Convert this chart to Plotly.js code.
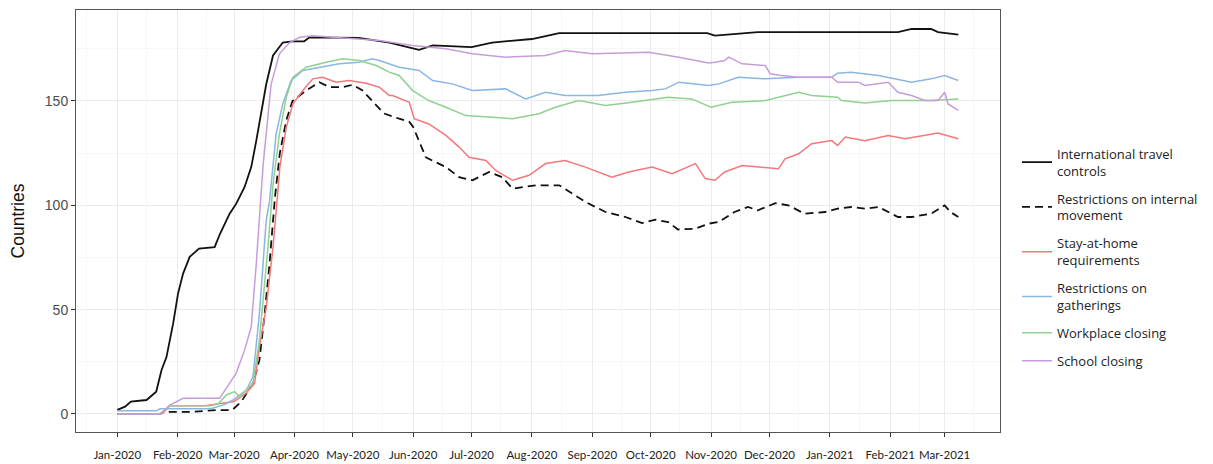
<!DOCTYPE html>
<html>
<head>
<meta charset="utf-8">
<script src="https://cdn.plot.ly/plotly-3.0.1.min.js"></script>
<style>html,body{margin:0;padding:0;background:#fff;}#chart{width:1213px;height:464px;}</style>
</head>
<body>
<div id="chart"></div>
<script>
// Values: [days since 2020-01-01, number of countries]
const seriesNames = [
  "International travel<br>controls",
  "Restrictions on internal<br>movement",
  "Stay-at-home<br>requirements",
  "Restrictions on<br>gatherings",
  "Workplace closing",
  "School closing"
];

const travelControls = [[0,2],[4,3.5],[7,5.9],[15,6.7],[20,10.7],[22.7,21],[25.3,27.4],[28.7,43.4],[31.2,57.7],[33.8,67.3],[37.2,75.3],[42,79.3],[50,80],[52.6,86],[57.7,96],[61.1,100.8],[65.4,108.8],[68.8,118.3],[71.4,131],[74,145.5],[76.5,158],[80,171.8],[85,178],[90,178.6],[96,178.6],[98.7,180.5],[124,180.2],[139.7,178],[155,174.5],[162,176.6],[182,175.8],[192.5,178],[213,179.7],[227,182.5],[303,182.5],[307,181.3],[329,183],[401,183],[408,184.5],[418,184.5],[421.6,183],[432,181.8]];

const internalMovement = [[0,0],[22,0],[24,1],[38,1],[51,1.9],[59,1.9],[63.7,5.9],[69.7,14.7],[73,25.8],[75.7,48],[78.2,72],[81,104],[83.5,125],[86.8,140.7],[90,150],[97,155],[103.8,159],[109,156.6],[115.8,156.6],[121,157.8],[126,155],[131,150],[137,144],[144.8,141.5],[150,140],[152,137.5],[158.5,123],[168.8,118.3],[175.6,113.5],[182.4,112],[191,116],[197.7,113.5],[203,108],[215,109.6],[227,109.6],[233.7,105.6],[240.5,101.6],[250.8,96.8],[261,94.4],[269.6,91.5],[276.4,93.1],[283,92],[288,88.4],[297,88.8],[303.7,91.2],[309,92],[317,96.8],[324,99.2],[329,97.6],[338,101],[344.7,100],[353,96],[363.6,96.8],[370,98.4],[377,99.2],[384,98.4],[391,99.2],[401,94.4],[408,94.4],[418,96],[425,100],[428,96.8],[432,94.4]];

const stayAtHome = [[0,0],[22,0],[24,1],[27,4],[45,4],[48,4.5],[53,5],[60,6],[66,9.9],[70.5,14.7],[73,32],[76.5,51],[80,80],[82.5,107],[83.5,118.3],[86.8,137.5],[90.2,148.6],[95.3,155],[100.4,160.6],[105.5,161.4],[112.4,159],[119,159.8],[127.8,158.5],[134.6,156.6],[139.7,152.6],[141.4,152.6],[150,149.4],[152.5,141.5],[160,139],[168.8,133.5],[175.6,127.9],[180.7,123],[189.3,121.5],[194.4,116.7],[203,112],[211.5,114.4],[220,120],[230,121.5],[240.5,118.3],[254,113.5],[262.7,116],[274.7,118.3],[285,115.2],[297,120],[302,112.8],[307,112],[312,116],[321,119.1],[329,118.3],[339.6,117.5],[343,122.3],[350,124.7],[356.7,129.5],[367,131],[370,128.7],[374,132.7],[384,131],[396,133.5],[404.6,131.9],[414.8,133.5],[421.6,134.6],[432,131.9]];

const gatherings = [[0,1.5],[20,1.5],[22,2.5],[48,2.5],[55,4.5],[59.4,6.7],[66.3,11.5],[69.7,17.8],[73,48],[76.5,92.8],[78.2,102],[81.6,134.3],[85,148.6],[89.3,159.8],[95.3,164.6],[103.8,166.2],[114,167.8],[124.3,168.6],[131,170.2],[134.6,169.4],[139.7,167.8],[144.8,166.2],[155,164.6],[162,159.8],[172,158.2],[182.4,155],[199.5,155.8],[209.8,151],[220,154.2],[230,152.6],[247,152.6],[261,154.2],[274.7,155],[281.5,155.8],[288.4,159],[303.7,157.4],[309,158.2],[319,161.4],[332.8,160.6],[350,161.4],[367,161.4],[370,163.3],[377,163.8],[391,162.2],[408,159],[418,160.6],[425,162.2],[432,159.8]];

const workplace = [[0,0],[22,0],[27,4],[48,4],[52,5],[56,9.1],[60.3,10.7],[62.8,8.3],[69.7,14.7],[73,35.4],[77.4,80],[80,110],[83.3,134.3],[86.8,151.8],[90.2,161.4],[97,166.2],[107.3,168.6],[115.8,170.2],[124.3,169.4],[133,167],[139.7,163.8],[144.8,162.2],[151.7,155],[160,150.2],[168.8,147],[179,143],[191,142.3],[203,141.5],[216.6,143.9],[225,147],[237,150.2],[250.8,147.8],[264.4,149.4],[283,151.8],[295,151],[303.7,147.4],[305,147],[315.7,149.4],[333,150.2],[350,154.2],[356.7,152.6],[370,151.8],[372,150.2],[384,149],[397.7,150.2],[418,150.2],[432,151]];

const schools = [[0,0],[22,0],[27,4.3],[33.8,7.5],[52.6,7.5],[56,12.3],[61,19.5],[65.4,30.6],[68.8,41.8],[71.4,72],[74,104],[74.8,118.3],[76.5,134.3],[79,158],[83.3,172.6],[88.5,178],[93.6,180.5],[100.4,181.3],[110.7,180.5],[124.3,179.7],[134.6,179],[151.7,176.6],[168.8,175],[182.4,172.6],[199.5,171],[220,171.8],[230,174.2],[244,172.6],[273,173.4],[288.4,171],[303.7,168.2],[307,168.6],[312,169.4],[314,171],[321,167.8],[332.8,167],[335.4,163],[341,162.2],[350,161.4],[367,161.4],[370,159],[380.6,159],[384,157.4],[396,159],[401,154.2],[408,152.6],[414.8,150.2],[421.6,150.2],[425,154.2],[426.7,148.6],[432,145.5]];

const yTicks = [0, 50, 100, 150];

const seriesData = [travelControls, internalMovement, stayAtHome, gatherings, workplace, schools];
const lineStyles = [
  {color: "#111111", width: 1.8, dash: "solid"},
  {color: "#111111", width: 1.8, dash: "8px,5px"},
  {color: "#F4777B", width: 1.5, dash: "solid"},
  {color: "#8AB6E2", width: 1.5, dash: "solid"},
  {color: "#8FD18F", width: 1.5, dash: "solid"},
  {color: "#C79CDB", width: 1.5, dash: "solid"}
];

function dayToDate(d) {
  return new Date(Date.UTC(2020, 0, 1) + d * 86400000).toISOString().slice(0, 19).replace("T", " ");
}

const traces = seriesData.map((s, i) => ({
  type: "scatter",
  mode: "lines",
  name: seriesNames[i],
  legendgroup: "g" + i,
  x: s.map(p => dayToDate(p[0])),
  y: s.map(p => p[1]),
  line: lineStyles[i],
  hoverinfo: "x+y+name"
}));

const layout = {
  width: 1213,
  height: 464,
  margin: {l: 76, r: 211, t: 10, b: 32},
  paper_bgcolor: "#ffffff",
  plot_bgcolor: "#ffffff",
  showlegend: true,
  legend: {
    x: 1.0184, xanchor: "left",
    y: 0.695, yanchor: "top",
    font: {family: "'Open Sans', Lato, sans-serif", size: 13, color: "#222"},
    tracegroupgap: 8,
    bgcolor: "rgba(0,0,0,0)"
  },
  xaxis: {
    type: "date",
    range: ["2019-12-10 19:00", "2021-03-29 10:00"],
    tick0: "2020-01-01",
    dtick: "M1",
    tickformat: "%b-%Y",
    ticks: "outside",
    ticklen: 4,
    tickcolor: "#333",
    ticklabelstandoff: 8,
    tickfont: {family: "Lato, 'Open Sans', sans-serif", size: 11.5, color: "#222"},
    showgrid: true,
    gridcolor: "#ebebeb",
    gridwidth: 1,
    minor: {tick0: "2019-12-16", dtick: "M1", showgrid: true, gridcolor: "#f1f1f1", gridwidth: 0.6},
    showline: true,
    linecolor: "#555",
    linewidth: 1,
    mirror: true,
    zeroline: false
  },
  yaxis: {
    range: [-8.63, 193.6],
    tickvals: yTicks,
    ticktext: yTicks.map(String),
    ticks: "outside",
    ticklen: 4,
    tickcolor: "#333",
    tickfont: {family: "'Liberation Sans', Arial, sans-serif", size: 14, color: "#4d4d4d"},
    showgrid: true,
    gridcolor: "#ebebeb",
    gridwidth: 1,
    minor: {tick0: 25, dtick: 50, showgrid: true, gridcolor: "#f1f1f1", gridwidth: 0.6},
    showline: true,
    linecolor: "#555",
    linewidth: 1,
    mirror: true,
    zeroline: false,
    title: {text: "Countries", font: {family: "'Liberation Sans', Arial, sans-serif", size: 17.5, color: "#111"}, standoff: 15}
  }
};

Plotly.newPlot("chart", traces, layout, {displayModeBar: false, staticPlot: true});
</script>
</body>
</html>
